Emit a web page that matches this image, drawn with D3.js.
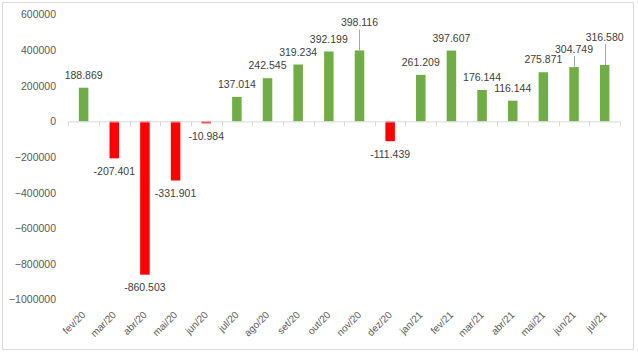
<!DOCTYPE html>
<html><head><meta charset="utf-8">
<script src="https://cdn.jsdelivr.net/npm/d3@7"></script>
<style>
html,body{margin:0;padding:0;background:#fff;}
svg{display:block;font-family:"Liberation Sans",Arial,sans-serif;}
</style></head>
<body>
<svg id="c" width="638" height="355"></svg>
<script>
const categories = ["fev/20","mar/20","abr/20","mai/20","jun/20","jul/20","ago/20","set/20","out/20","nov/20","dez/20","jan/21","fev/21","mar/21","abr/21","mai/21","jun/21","jul/21"];
const values = [188869,-207401,-860503,-331901,-10984,137014,242545,319234,392199,398116,-111439,261209,397607,176144,116144,275871,304749,316580];
const labels = ["188.869","-207.401","-860.503","-331.901","-10.984","137.014","242.545","319.234","392.199","398.116","-111.439","261.209","397.607","176.144","116.144","275.871","304.749","316.580"];
const yTicks = [-1000000,-800000,-600000,-400000,-200000,0,200000,400000,600000];

// label nudges (pixels above default), style only
const labelLift = {"nov/20":15.5,"jun/21":5.5,"jul/21":15.5};

const svg = d3.select("#c");
svg.append("rect").attr("x",2.5).attr("y",2.5).attr("width",631).attr("height",347)
  .attr("fill","#fff").attr("stroke","#d9d9d9").attr("stroke-width",1);

const y = d3.scaleLinear().domain([-1000000,600000]).range([299.5,14.5]);
const pIn = 0.69;
const x = d3.scaleBand().domain(categories).range([68.3,620]).paddingInner(pIn).paddingOuter(pIn/2);

// y axis labels
const ya = svg.append("g").attr("transform","translate(68,0)")
  .call(d3.axisLeft(y).tickValues(yTicks).tickSize(0).tickPadding(12).tickFormat(d3.format("d")));
ya.select(".domain").remove();
ya.selectAll("text").attr("fill","#595959").style("font-size","10.5px").style("font-family","Liberation Sans, Arial, sans-serif");

// bars
const data = categories.map((c,i)=>({c, v:values[i], l:labels[i]}));
svg.append("g").selectAll("rect").data(data).join("rect")
  .attr("x",d=>x(d.c)).attr("width",x.bandwidth())
  .attr("y",d=>y(Math.max(0,d.v))).attr("height",d=>Math.abs(y(d.v)-y(0)))
  .attr("fill",d=>d.v>=0?"#70ad47":"#ff0000");

// x axis line and ticks
const y0 = y(0);
const gap = (x.step()-x.bandwidth())/2;
const bounds = categories.map(c=>x(c)-gap).concat([x(categories[categories.length-1])+x.bandwidth()+gap]);
const xa = svg.append("g");
xa.append("line").attr("x1",bounds[0]).attr("x2",bounds[bounds.length-1]).attr("y1",y0+0.5).attr("y2",y0+0.5)
  .attr("stroke","#d9d9d9").attr("stroke-width",1);
xa.selectAll("line.t").data(bounds).join("line").attr("class","t")
  .attr("x1",d=>Math.round(d)+0.5).attr("x2",d=>Math.round(d)+0.5).attr("y1",y0).attr("y2",y0+5)
  .attr("stroke","#d9d9d9").attr("stroke-width",1);

// x labels
svg.append("g").selectAll("text").data(categories).join("text")
  .attr("transform",c=>`translate(${x(c)+x.bandwidth()/2},313) rotate(-45)`)
  .attr("text-anchor","end").attr("dy","0.35em")
  .attr("fill","#595959").style("font-size","10px").text(c=>c);

// data labels
const cx = d=>x(d.c)+x.bandwidth()/2;
const ly = d=>{
  const lift = labelLift[d.c]||0;
  return d.v>=0 ? y(d.v)-12.5-lift : y(d.v)+13;
};
svg.append("g").selectAll("line").data(data.filter(d=>labelLift[d.c])).join("line")
  .attr("x1",d=>Math.round(cx(d))+0.5).attr("x2",d=>Math.round(cx(d))+0.5)
  .attr("y1",d=>ly(d)+7).attr("y2",d=>y(d.v))
  .attr("stroke","#a6a6a6").attr("stroke-width",1);
svg.append("g").selectAll("text").data(data).join("text")
  .attr("x",cx).attr("y",ly).attr("dy","0.35em").attr("text-anchor","middle")
  .attr("fill","#404040").style("font-size","10.5px").text(d=>d.l);
</script>
</body></html>
